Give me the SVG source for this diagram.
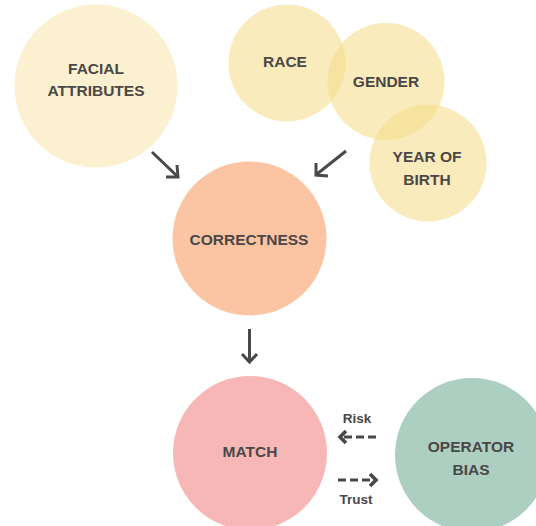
<svg xmlns="http://www.w3.org/2000/svg" width="536" height="526" viewBox="0 0 536 526">
<defs>
<style>
.lbl{font-family:"Liberation Sans",Arial,sans-serif;font-weight:bold;font-size:15.5px;fill:#4a4747;text-anchor:middle}
.sm{font-family:"Liberation Sans",Arial,sans-serif;font-weight:bold;font-size:13.5px;fill:#4a4747;text-anchor:middle}
.ln{stroke:#4a4848;stroke-width:3;fill:none;stroke-linecap:butt}
.hd{stroke:#4a4848;stroke-width:3;fill:none;stroke-linejoin:miter}
.hd2{stroke:#4a4848;stroke-width:3.6;fill:none;stroke-linejoin:miter}
.ds{stroke:#4a4848;stroke-width:3;fill:none;stroke-dasharray:8 4}
.demo{fill:#f5dd8d;fill-opacity:0.6}
</style>
</defs>
<rect width="536" height="526" fill="#ffffff"/>
<g id="facial"><circle cx="96" cy="86" r="81.5" fill="#fbf0cf"/><text class="lbl" x="96" y="74">FACIAL</text><text class="lbl" x="96" y="96">ATTRIBUTES</text></g>
<g id="race"><circle class="demo" cx="287" cy="63" r="58.5"/><text class="lbl" x="285" y="67">RACE</text></g>
<g id="gender"><circle class="demo" cx="386" cy="81.5" r="58.5"/><text class="lbl" x="386" y="87">GENDER</text></g>
<g id="year"><circle class="demo" cx="428" cy="163" r="58.5"/><text class="lbl" x="427" y="162">YEAR OF</text><text class="lbl" x="427" y="185">BIRTH</text></g>
<g id="correctness"><circle cx="249.5" cy="238.5" r="77" fill="#fbc4a2"/><text class="lbl" x="249" y="245">CORRECTNESS</text></g>
<g id="match"><circle cx="250" cy="453" r="77" fill="#f8b7b7"/><text class="lbl" x="250" y="457">MATCH</text></g>
<g id="operator"><circle cx="472" cy="455" r="77" fill="#adcfc2"/><text class="lbl" x="471" y="452">OPERATOR</text><text class="lbl" x="471" y="475">BIAS</text></g>
<g id="connectors">
<line class="ln" x1="152" y1="152" x2="177" y2="176"/><polyline class="hd" points="177,165 178,177 166,177"/>
<line class="ln" x1="346" y1="151" x2="317" y2="174"/><polyline class="hd" points="316,163 316,175 328,176"/>
<line class="ln" x1="249.5" y1="329" x2="249.5" y2="361"/><polyline class="hd" points="242,354 249.5,362 257,354"/>
<line class="ds" x1="376" y1="437" x2="342" y2="437"/><polyline class="hd2" points="346,431 340,437 346,443"/>
<line class="ds" x1="338" y1="480" x2="372" y2="480"/><polyline class="hd2" points="370,474 376,480 370,486"/>
<text class="sm" x="357" y="423">Risk</text>
<text class="sm" x="356" y="504">Trust</text>
</g>
</svg>
